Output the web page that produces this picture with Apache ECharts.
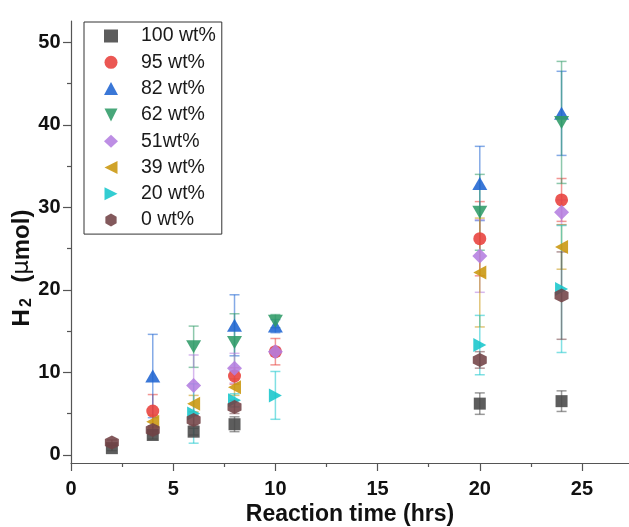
<!DOCTYPE html>
<html>
<head>
<meta charset="utf-8">
<script src="https://cdn.jsdelivr.net/npm/echarts@6/dist/echarts.min.js"></script>
<style>
html,body{margin:0;padding:0;background:#fff;}
#chart{width:629px;height:527px;}
</style>
</head>
<body>
<div id="chart"></div>
<script>
// ---- data ----
const times = [2, 4, 6, 8, 10, 20, 24];
const seriesNames = ['100 wt%', '95 wt%', '82 wt%', '62 wt%', '51wt%', '39 wt%', '20 wt%', '0 wt%'];
const h2_100 = [0.8, 2.4, 2.8, 3.7, null, 6.2, 6.5];
const err_100 = [0.3, 0.5, 0.4, 0.9, null, 1.3, 1.25];
const h2_95 = [null, 5.3, null, 9.55, 12.5, 26.2, 30.9];
const err_95 = [null, 2.0, null, 1.0, 1.6, 4.5, 2.6];
const h2_82 = [null, 9.55, null, 15.7, 15.6, 32.9, 41.4];
const err_82 = [null, 5.05, null, 3.7, 0.8, 4.5, 5.1];
const h2_62 = [null, null, 13.1, 13.6, 16.2, 29.4, 40.3];
const err_62 = [null, null, 2.5, 3.5, 0.8, 4.6, 7.4];
const h2_51 = [null, null, 8.4, 10.5, 12.5, 24.1, 29.4];
const err_51 = [null, null, 3.7, 1.8, 0.5, 4.4, 1.5];
const h2_39 = [null, 4.0, 6.2, 8.2, null, 22.1, 25.2];
const err_39 = [null, 0.8, 1.0, 1.0, null, 6.6, 2.7];
const h2_20 = [null, null, 5.0, 6.6, 7.2, 13.3, 20.1];
const err_20 = [null, null, 3.6, 0.8, 2.9, 3.6, 7.7];
const h2_0 = [1.5, 3.0, 4.2, 5.8, null, 11.5, 19.3];
const err_0 = [0.3, 0.5, 0.6, 0.8, null, 1.0, 5.3];
const xMajorTicks = [0, 5, 10, 15, 20, 25];
const xMinorTicks = [2.5, 7.5, 12.5, 17.5, 22.5];
const yMajorTicks = [0, 10, 20, 30, 40, 50];
const yMinorTicks = [5, 15, 25, 35, 45];

// ---- styles ----
const values = [h2_100, h2_95, h2_82, h2_62, h2_51, h2_39, h2_20, h2_0];
const errors = [err_100, err_95, err_82, err_62, err_51, err_39, err_20, err_0];
const colors = ['#474747', '#e8403b', '#1f64d2', '#2f9b68', '#b47ee0', '#c9960c', '#17c6cc', '#724246'];
const symbols = [
  'rect', 'circle', 'triangle',
  'path://M-1,-1 L1,-1 L0,1 Z',
  'diamond',
  'path://M-1,0 L1,-1 L1,1 Z',
  'path://M1,0 L-1,-1 L-1,1 Z',
  'path://M0,-1 L0.866,-0.5 L0.866,0.5 L0,1 L-0.866,0.5 L-0.866,-0.5 Z'
];
const sizes = [12, 13, [15, 13], [15, 13], 15, [13, 14], [13, 14], 14];
const FONT = '"Liberation Sans", Arial, sans-serif';

const series = [];
// error bars
values.forEach((vals, k) => {
  const data = [];
  times.forEach((t, i) => {
    if (vals[i] != null) data.push([t, vals[i] - errors[k][i], vals[i] + errors[k][i]]);
  });
  series.push({
    type: 'custom',
    name: 'err' + k,
    xAxisIndex: 0, yAxisIndex: 0,
    encode: { x: 0, y: [1, 2] },
    data: data,
    z: 2,
    silent: true,
    renderItem: function (params, api) {
      const x = api.value(0);
      const lo = api.coord([x, api.value(1)]);
      const hi = api.coord([x, api.value(2)]);
      const hw = 5;
      const st = { stroke: colors[k], lineWidth: 1.5, opacity: 0.55 };
      return {
        type: 'group',
        children: [
          { type: 'line', shape: { x1: lo[0], y1: lo[1], x2: hi[0], y2: hi[1] }, style: st },
          { type: 'line', shape: { x1: hi[0] - hw, y1: hi[1], x2: hi[0] + hw, y2: hi[1] }, style: st },
          { type: 'line', shape: { x1: lo[0] - hw, y1: lo[1], x2: lo[0] + hw, y2: lo[1] }, style: st }
        ]
      };
    }
  });
});
// markers
values.forEach((vals, k) => {
  const data = [];
  times.forEach((t, i) => { if (vals[i] != null) data.push([t, vals[i]]); });
  series.push({
    type: 'scatter',
    name: seriesNames[k],
    xAxisIndex: 0, yAxisIndex: 0,
    data: data,
    symbol: symbols[k],
    symbolSize: sizes[k],
    z: 3,
    itemStyle: { color: colors[k], opacity: 0.88 }
  });
});

const chart = echarts.init(document.getElementById('chart'), null, { renderer: 'canvas' });
chart.setOption({
  animation: false,
  backgroundColor: '#ffffff',
  grid: { left: 71, right: 0, top: 21, bottom: 64, containLabel: false, outerBoundsMode: 'none' },
  legend: {
    data: seriesNames,
    orient: 'vertical',
    left: 84, top: 22,
    padding: [4, 6, 4, 20],
    itemWidth: 14, itemHeight: 13,
    itemGap: 6.3,
    borderColor: '#333', borderWidth: 1,
    backgroundColor: '#fff',
    z: 10,
    textStyle: { fontFamily: FONT, fontSize: 19.5, color: '#1a1a1a', lineHeight: 20, padding: [0, 0, 0, 18] }
  },
  xAxis: [{
    type: 'value', min: 0, max: 27.3,
    name: 'Reaction time (hrs)', nameLocation: 'middle', nameGap: 40, nameMoveOverlap: false,
    nameTextStyle: { fontFamily: FONT, fontSize: 23, fontWeight: 'bold', color: '#111' },
    axisLine: { show: true, onZero: false, lineStyle: { color: '#555', width: 1.2 } },
    axisTick: { show: true, inside: false, length: 8, customValues: xMajorTicks, lineStyle: { color: '#555', width: 1.2 } },
    axisLabel: { customValues: xMajorTicks, margin: 16, fontFamily: FONT, fontSize: 20, fontWeight: 'bold', color: '#111' },
    splitLine: { show: false }
  }, {
    type: 'value', min: 0, max: 27.3, position: 'bottom',
    axisLine: { show: false, onZero: false },
    axisTick: { show: true, length: 4, customValues: xMinorTicks, lineStyle: { color: '#555', width: 1.2 } },
    axisLabel: { show: false },
    splitLine: { show: false }
  }],
  yAxis: [{
    type: 'value', min: -1, max: 52.6,
    name: '{b|H}{sub|2}{b|  (}{mu|μ}{b|mol)}',
    nameLocation: 'middle', nameGap: 36, nameRotate: 90, nameMoveOverlap: false,
    nameTextStyle: {
      padding: [0, 52, 0, 0],
      rich: {
        b: { fontFamily: FONT, fontSize: 24, fontWeight: 'bold', color: '#111', lineHeight: 26 },
        sub: { fontFamily: FONT, fontSize: 16, fontWeight: 'bold', color: '#111', lineHeight: 26, verticalAlign: 'bottom', padding: [10, 2, 0, 2] },
        mu: { fontFamily: '"DejaVu Sans", sans-serif', fontSize: 23, fontWeight: 'normal', color: '#111', lineHeight: 26 }
      }
    },
    axisLine: { show: true, onZero: false, lineStyle: { color: '#555', width: 1.2 } },
    axisTick: { show: true, inside: false, length: 8, customValues: yMajorTicks, lineStyle: { color: '#555', width: 1.2 } },
    axisLabel: { customValues: yMajorTicks, margin: 10.5, fontFamily: FONT, fontSize: 20, fontWeight: 'bold', color: '#111' },
    splitLine: { show: false }
  }, {
    type: 'value', min: -1, max: 52.6, position: 'left',
    axisLine: { show: false, onZero: false },
    axisTick: { show: true, length: 4, customValues: yMinorTicks, lineStyle: { color: '#555', width: 1.2 } },
    axisLabel: { show: false },
    splitLine: { show: false }
  }],
  series: series
});
</script>
</body>
</html>
